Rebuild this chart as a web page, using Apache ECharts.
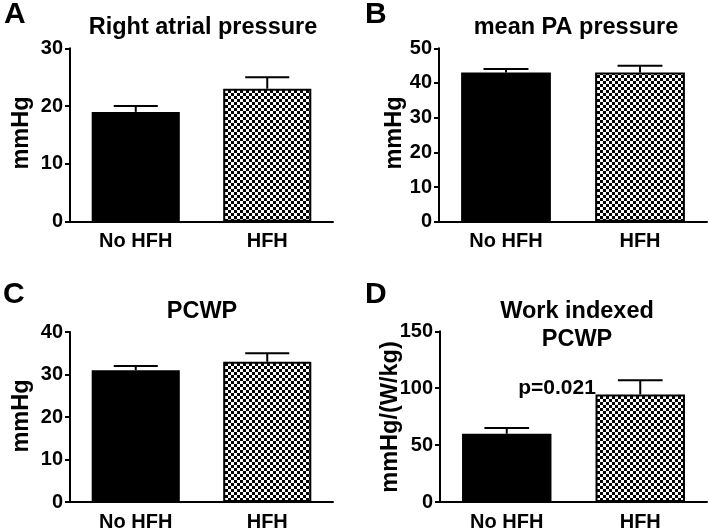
<!DOCTYPE html>
<html>
<head>
<meta charset="utf-8">
<script src="https://cdn.jsdelivr.net/npm/echarts@6/dist/echarts.min.js"></script>
<style>
html,body{margin:0;padding:0;background:#fff;}
#c{width:709px;height:532px;}
</style>
</head>
<body>
<div id="c"></div>
<script>
// ---- data ----
var categories = ['No HFH', 'HFH'];
var rapMean = [19, 23];
var rapUpper = [20, 25];
var mpapMean = [43, 43];
var mpapUpper = [44, 45];
var pcwpMean = [31, 33];
var pcwpUpper = [32, 35];
var wipMean = [60, 94.5];
var wipUpper = [65, 107];

var axisMaxA = 30, axisIntA = 10;
var axisMaxB = 50, axisIntB = 10;
var axisMaxC = 40, axisIntC = 10;
var axisMaxD = 150, axisIntD = 50;

// ---- styles ----
var FONT = '"Liberation Sans", Arial, Helvetica, sans-serif';

function makeChecker() {
  var cv = document.createElement('canvas');
  cv.width = 6; cv.height = 6;
  var ctx = cv.getContext('2d');
  ctx.fillStyle = '#fff';
  ctx.fillRect(0, 0, 6, 6);
  ctx.fillStyle = '#000';
  ctx.fillRect(0, 0, 3, 3);
  ctx.fillRect(3, 3, 3, 3);
  return cv;
}
var checker = makeChecker();

var grids = [
  {left: 70, top: 48.3, width: 263, height: 173.4},
  {left: 439, top: 48.3, width: 268, height: 173.4},
  {left: 70, top: 332, width: 263, height: 173.3},
  {left: 440, top: 331.3, width: 267, height: 173.4}
];
var maxes = [axisMaxA, axisMaxB, axisMaxC, axisMaxD];
var ints = [axisIntA, axisIntB, axisIntC, axisIntD];
var means = [rapMean, mpapMean, pcwpMean, wipMean];
var uppers = [rapUpper, mpapUpper, pcwpUpper, wipUpper];

var xAxes = [], yAxes = [], series = [];
for (var i = 0; i < 4; i++) {
  xAxes.push({
    type: 'category', gridIndex: i, data: categories,
    axisLine: {lineStyle: {color: '#000', width: 2}},
    axisTick: {alignWithLabel: true, length: 5, lineStyle: {color: '#000', width: 2}},
    axisLabel: {color: '#000', fontFamily: FONT, fontWeight: 'bold', fontSize: 20, margin: 10}
  });
  yAxes.push({
    type: 'value', gridIndex: i, min: 0, max: maxes[i], interval: ints[i],
    axisLine: {show: true, lineStyle: {color: '#000', width: 2}},
    axisTick: {show: true, length: 5, lineStyle: {color: '#000', width: 2}},
    splitLine: {show: false},
    axisLabel: {color: '#000', fontFamily: FONT, fontWeight: 'bold', fontSize: 20, margin: 7}
  });
  series.push({
    type: 'bar', xAxisIndex: i, yAxisIndex: i, barWidth: '67%',
    data: [
      {value: means[i][0], itemStyle: {color: '#000', borderColor: '#000', borderWidth: 2}},
      {value: means[i][1], itemStyle: {color: {image: checker, repeat: 'repeat'}, borderColor: '#000', borderWidth: 2}}
    ],
    z: 2
  });
  var ed = [];
  for (var k = 0; k < categories.length; k++) ed.push([k, means[i][k], uppers[i][k]]);
  series.push({
    type: 'custom', xAxisIndex: i, yAxisIndex: i, data: ed, z: 3,
    renderItem: function (params, api) {
      var c = api.value(0);
      var p0 = api.coord([c, api.value(1)]);
      var p1 = api.coord([c, api.value(2)]);
      var band = api.size([1, 0])[0];
      var hw = band * 0.67 * 0.25;
      var st = {stroke: '#000', lineWidth: 2};
      return {type: 'group', children: [
        {type: 'line', shape: {x1: p0[0], y1: p0[1], x2: p1[0], y2: p1[1]}, style: st},
        {type: 'line', shape: {x1: p1[0] - hw, y1: p1[1], x2: p1[0] + hw, y2: p1[1]}, style: st}
      ]};
    }
  });
}

function txt(t, x, y, size, align, rot) {
  var g = {
    type: 'text', x: x, y: y, z: 10,
    style: {text: t, fill: '#000', font: 'bold ' + size + 'px ' + FONT,
      textAlign: align || 'center', textVerticalAlign: 'middle'}
  };
  if (rot) { g.rotation = rot; }
  return g;
}

var graphics = [
  txt('A', 4, 15, 30, 'left'),
  txt('B', 365, 15, 30, 'left'),
  txt('C', 3, 295, 30, 'left'),
  txt('D', 365, 295, 30, 'left'),
  txt('Right atrial pressure', 203, 28, 23.5),
  txt('mean PA pressure', 576, 28, 23.5),
  txt('PCWP', 202, 312, 23.5),
  txt('Work indexed', 577, 312, 23.5),
  txt('PCWP', 577, 340, 23.5),
  txt('p=0.021', 557, 388, 21),
  txt('mmHg', 22, 133, 23.5, 'center', Math.PI / 2),
  txt('mmHg', 395, 133, 23.5, 'center', Math.PI / 2),
  txt('mmHg', 22, 416, 23.5, 'center', Math.PI / 2),
  txt('mmHg/(W/kg)', 391, 417, 23.5, 'center', Math.PI / 2)
];

var chart = echarts.init(document.getElementById('c'), null, {renderer: 'canvas'});
chart.setOption({
  animation: false,
  backgroundColor: '#fff',
  grid: grids,
  xAxis: xAxes,
  yAxis: yAxes,
  series: series,
  graphic: graphics
});
</script>
</body>
</html>
